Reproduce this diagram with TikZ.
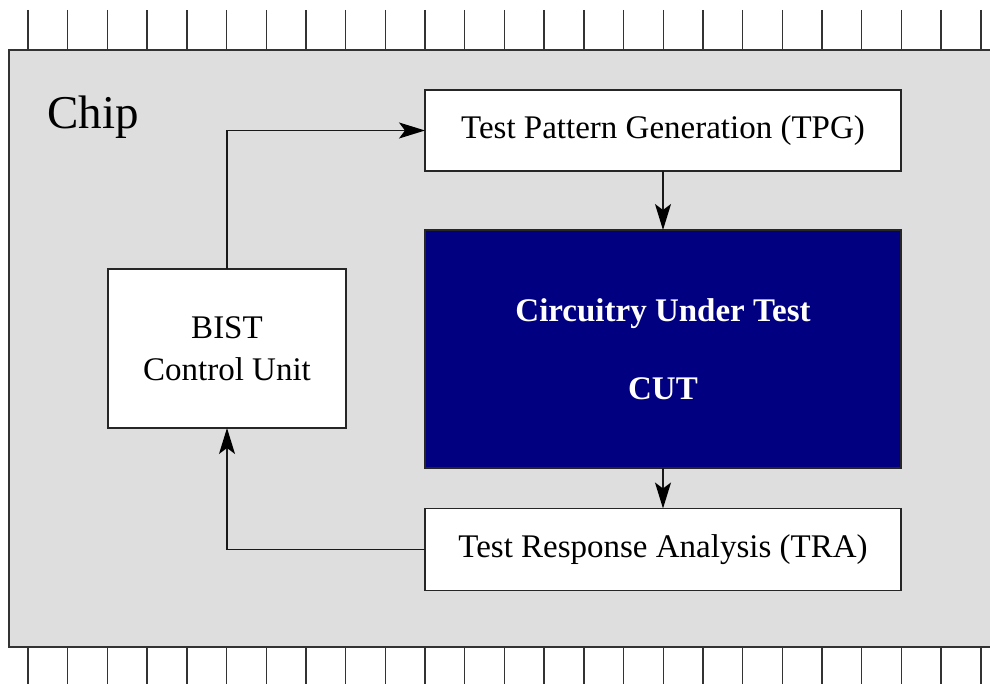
\documentclass[tikz,border=0pt]{standalone}
\usepackage{fontspec}
\setmainfont{Liberation Serif}
\usetikzlibrary{arrows.meta}
\definecolor{chipgray}{HTML}{DEDEDE}
\definecolor{cutblue}{HTML}{000080}
\begin{document}
\begin{tikzpicture}[x=1pt,y=-1pt,
  box/.style={draw=black!85,line width=1.6pt,fill=white,inner sep=0pt,outer sep=0pt,align=center,
    font=\fontsize{33}{42}\selectfont},
  conn/.style={line width=1.5pt,draw=black!90},
  tip/.style={-{Stealth[length=26pt,width=16pt,inset=6pt,color=black]}},
  pin/.style={line width=1.4pt,draw=black!80}]
\useasboundingbox (0,0) rectangle (990,684);
\clip (0,0) rectangle (990,684);
% chip body
\path[fill=chipgray,draw=black!80,line width=1.8pt] (9,50) rectangle (1010,647);
\foreach \i in {0,...,24}{
  \draw[pin] (28+39.7*\i,10) -- (28+39.7*\i,50);
  \draw[pin] (28+39.7*\i,647) -- (28+39.7*\i,700);
}
\node[anchor=base west,inner sep=0pt,font=\fontsize{47}{50}\selectfont] (chiplabel) at (47,129) {Chip};
% blocks
\node[box,minimum width=476,minimum height=81] (tpg) at (663,130.5) {Test Pattern Generation (TPG)};
\node[box,fill=cutblue,text=white,minimum width=476,minimum height=238,
  font=\fontsize{33}{78}\selectfont\bfseries] (cut) at (663,349) {Circuitry Under Test\\CUT};
\node[box,minimum width=476,minimum height=82] (tra) at (663,549.5) {Test Response Analysis (TRA)};
\node[box,minimum width=238,minimum height=159] (bist) at (227,348.5) {BIST\\Control Unit};
% connectors
\draw[conn,tip] (bist.north) |- (tpg.west);
\draw[conn,tip] (tpg.south) -- (cut.north);
\draw[conn,tip] (cut.south) -- (tra.north);
\draw[conn,tip] (tra.west) -| (bist.south);
\end{tikzpicture}
\end{document}
